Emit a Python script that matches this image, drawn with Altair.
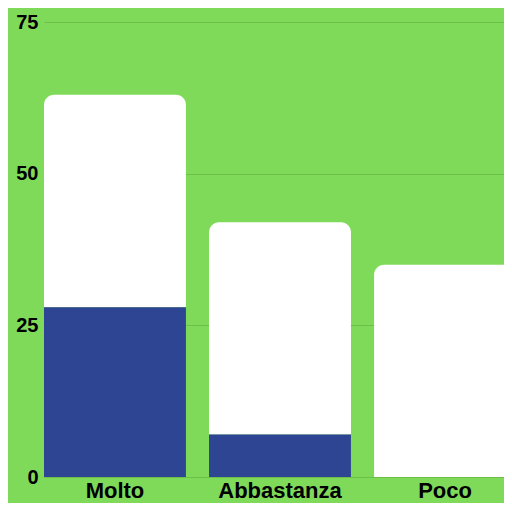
import altair as alt
import pandas as pd

categories = ["Molto", "Abbastanza", "Poco"]
blue_values = [28, 7, 0]
white_values = [35, 35, 35]
y_ticks = [0, 25, 50, 75]

df = pd.DataFrame({"cat": categories, "blue": blue_values, "white": white_values})

BG = "#80DA5A"
BLUE = "#2E4593"
GRID = "#6CBF48"

x = alt.X("cat:N", sort=categories, title=None,
          scale=alt.Scale(range=[0, 472], paddingInner=0.14, paddingOuter=0),
          axis=alt.Axis(labelAngle=0, labelFontSize=22, labelFontWeight="bold",
                        labelColor="#000000", labelFont="Liberation Sans",
                        ticks=False, domain=False, labelPadding=3, grid=False))

yscale = alt.Scale(domain=[0, 75], nice=False)
yaxis = alt.Axis(values=y_ticks, labelFontSize=20, labelFontWeight="bold",
                 labelColor="#000000", labelFont="Liberation Sans",
                 ticks=False, domain=False, labelPadding=6,
                 grid=True, gridColor=GRID, gridWidth=1, title=None)

base = alt.Chart(df).transform_calculate(total="datum.blue + datum.white")

white = base.mark_bar(color="white", cornerRadiusTopLeft=10, cornerRadiusTopRight=10).encode(
    x=x,
    y=alt.Y("blue:Q", scale=yscale, axis=yaxis),
    y2="total:Q",
)

blue = base.mark_bar(color=BLUE).encode(
    x=x,
    y=alt.Y("blue:Q", scale=yscale, axis=yaxis),
)

chart = alt.layer(white, blue).properties(
    width=460, height=455, background=BG,
    padding={"left": 36, "top": 14, "right": 0, "bottom": 26},
    autosize=alt.AutoSizeParams(type="none"),
).configure_view(stroke=None)

chart.save("out.html", embed_options={"renderer": "svg", "actions": False})
